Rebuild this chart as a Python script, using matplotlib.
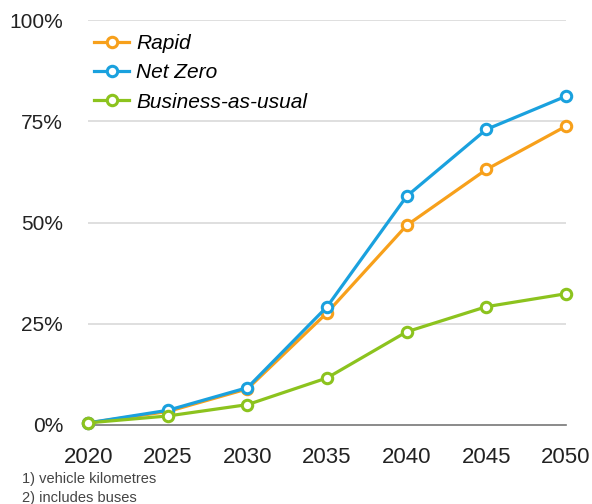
import matplotlib
matplotlib.use("Agg")
import matplotlib.pyplot as plt

years = [2020, 2025, 2030, 2035, 2040, 2045, 2050]
rapid = [0.5, 3.3, 8.9, 27.7, 49.3, 63.1, 73.8]
net_zero = [0.5, 3.6, 9.2, 29.2, 56.5, 73.0, 81.2]
bau = [0.5, 2.2, 5.0, 11.6, 23.0, 29.2, 32.4]
series_names = ["Rapid", "Net Zero", "Business-as-usual"]
colors = ["#F7A01B", "#1AA1DE", "#8CC31E"]
y_ticks = [0, 25, 50, 75, 100]
y_labels = ["0%", "25%", "50%", "75%", "100%"]
footnotes = ["1) vehicle kilometres", "2) includes buses"]

plt.rcParams["font.family"] = ["Liberation Sans", "DejaVu Sans"]

fig = plt.figure(figsize=(5.92, 5.04), dpi=100)
ax = fig.add_axes([0.149, 0.157, 0.807, 0.803])

for vals, name, c in zip([rapid, net_zero, bau], series_names, colors):
    ax.plot(years, vals, color=c, lw=2.3, marker="o", ms=7.5, mfc="white",
            mec=c, mew=2.2, label=name, clip_on=False, zorder=3)

ax.set_xlim(2020, 2050)
ax.set_ylim(0, 100)
ax.set_yticks(y_ticks)
ax.set_yticklabels(y_labels)
ax.set_xticks(years)
ax.set_xticklabels([str(y) for y in years])
ax.tick_params(axis="both", length=0, colors="#222222")
ax.tick_params(axis="x", pad=16, labelsize=16)
ax.tick_params(axis="y", pad=18, labelsize=15)

for s in ["top", "right", "left"]:
    ax.spines[s].set_visible(False)
ax.spines["bottom"].set_color("#777777")
ax.spines["bottom"].set_linewidth(1.2)
for t in y_ticks[1:]:
    ax.axhline(t, color="#D9D9D9", lw=1.2, zorder=1)

leg = ax.legend(loc="upper left", bbox_to_anchor=(-0.013, 0.997), frameon=False,
                prop={"style": "italic", "size": 15}, handlelength=1.65,
                handletextpad=0.35, labelspacing=0.5, borderaxespad=0.2)

fig.text(0.038, 0.050, footnotes[0], fontsize=10.5, color="#444444", va="center")
fig.text(0.038, 0.012, footnotes[1], fontsize=10.5, color="#444444", va="center")

fig.savefig("out.png", dpi=100)
